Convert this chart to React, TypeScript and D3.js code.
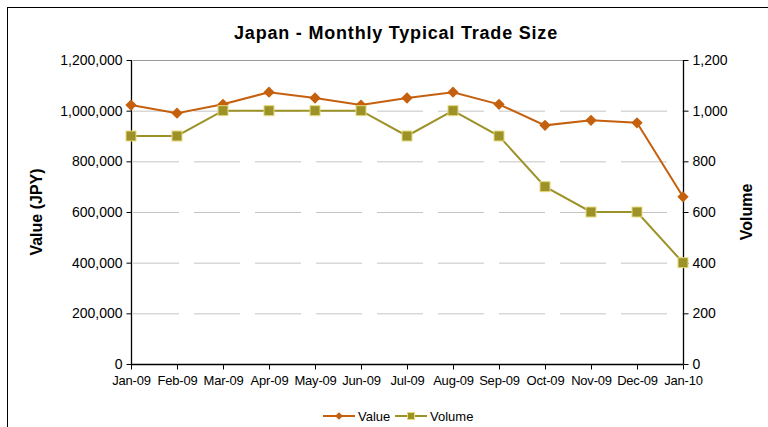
import React, { useEffect, useRef } from "react";
import * as d3 from "d3";

const months = ["Jan-09", "Feb-09", "Mar-09", "Apr-09", "May-09", "Jun-09", "Jul-09", "Aug-09", "Sep-09", "Oct-09", "Nov-09", "Dec-09", "Jan-10"];
const valueSeries = [1022000, 990000, 1025000, 1073000, 1050000, 1022000, 1050000, 1073000, 1025000, 942000, 962000, 952000, 660000];
const volumeSeries = [900, 900, 1000, 1000, 1000, 1000, 900, 1000, 900, 700, 600, 600, 400];
const valueTicks = [0, 200000, 400000, 600000, 800000, 1000000, 1200000];
const volumeTicks = [0, 200, 400, 600, 800, 1000, 1200];

const FONT = "Arial, 'Liberation Sans', sans-serif";
const VALUE_COLOR = "#C4600E";
const VOLUME_COLOR = "#9C9228";
const VOLUME_EDGE = "#E6DA7E";

export default function App() {
  const ref = useRef<SVGSVGElement>(null);

  useEffect(() => {
    const svg = d3.select(ref.current);
    svg.selectAll("*").remove();

    const left = 131, right = 683, top = 60, bottom = 364;

    svg.append("rect")
      .attr("x", 7.5).attr("y", 7.5)
      .attr("width", 800).attr("height", 500)
      .attr("fill", "white").attr("stroke", "#000").attr("stroke-width", 1);

    svg.append("text")
      .attr("x", 396).attr("y", 39)
      .attr("text-anchor", "middle")
      .style("font", `bold 18px ${FONT}`)
      .style("letter-spacing", "0.8px")
      .text("Japan - Monthly Typical Trade Size");

    const x = d3.scalePoint<string>().domain(months).range([left, right]);
    const yL = d3.scaleLinear().domain([0, 1200000]).range([bottom, top]);
    const yR = d3.scaleLinear().domain([0, 1200]).range([bottom, top]);

    // gridlines
    svg.append("g")
      .selectAll("line")
      .data(valueTicks.filter(t => t > 0))
      .join("line")
      .attr("x1", left + 2).attr("x2", right)
      .attr("y1", d => yL(d) + 0.5).attr("y2", d => yL(d) + 0.5)
      .attr("stroke", d => d === 1200000 ? "#999" : "#c4c4c4")
      .attr("stroke-dasharray", d => d === 1200000 ? null : "46,15");

    const fmt = d3.format(",");

    const axL = svg.append("g")
      .attr("transform", `translate(${left + 0.5},0)`)
      .call(d3.axisLeft(yL).tickValues(valueTicks).tickFormat(d => fmt(d as number)).tickSize(5).tickPadding(4));
    const axR = svg.append("g")
      .attr("transform", `translate(${right + 0.5},0)`)
      .call(d3.axisRight(yR).tickValues(volumeTicks).tickFormat(d => fmt(d as number)).tickSize(5).tickPadding(4));
    const axB = svg.append("g")
      .attr("transform", `translate(0,${bottom + 0.5})`)
      .call(d3.axisBottom(x).tickSize(5).tickPadding(6));

    [axL, axR, axB].forEach(ax => {
      ax.select(".domain").attr("stroke", "#000").attr("stroke-width", 1.3);
      ax.selectAll(".tick line").attr("stroke", "#000");
      ax.selectAll("text").style("font", `14px ${FONT}`).attr("fill", "#000");
    });
    axB.selectAll("text").style("font", `13px ${FONT}`).style("letter-spacing", "-0.2px");
    axB.select(".domain").attr("d", `M${left},0H${right}`);
    axL.select(".domain").attr("d", `M0,${top}V${bottom}`);
    axR.select(".domain").attr("d", `M0,${top}V${bottom}`);

    svg.append("text")
      .attr("transform", `translate(42,${(top + bottom) / 2}) rotate(-90)`)
      .attr("text-anchor", "middle")
      .style("font", `bold 16px ${FONT}`)
      .text("Value (JPY)");
    svg.append("text")
      .attr("transform", `translate(752,${(top + bottom) / 2}) rotate(-90)`)
      .attr("text-anchor", "middle")
      .style("font", `bold 16px ${FONT}`)
      .text("Volume");

    const lineVal = d3.line<number>().x((_, i) => x(months[i]) as number).y(d => yL(d));
    const lineVol = d3.line<number>().x((_, i) => x(months[i]) as number).y(d => yR(d));

    svg.append("path").datum(volumeSeries).attr("d", lineVol)
      .attr("fill", "none").attr("stroke", VOLUME_COLOR).attr("stroke-width", 2);
    svg.append("path").datum(valueSeries).attr("d", lineVal)
      .attr("fill", "none").attr("stroke", VALUE_COLOR).attr("stroke-width", 2);

    // diamond markers
    svg.append("g").selectAll("path")
      .data(valueSeries).join("path")
      .attr("transform", (d, i) => `translate(${x(months[i])},${yL(d)}) rotate(45)`)
      .attr("d", d3.symbol().type(d3.symbolSquare).size(64)())
      .attr("fill", VALUE_COLOR);

    svg.append("g").selectAll("rect")
      .data(volumeSeries).join("rect")
      .attr("x", (_, i) => (x(months[i]) as number) - 5)
      .attr("y", d => yR(d) - 5)
      .attr("width", 10).attr("height", 10)
      .attr("fill", VOLUME_COLOR).attr("stroke", VOLUME_EDGE).attr("stroke-width", 1);

    // legend
    const lg = svg.append("g").attr("transform", "translate(0,416)");
    lg.append("line").attr("x1", 323).attr("x2", 355).attr("y1", 0).attr("y2", 0)
      .attr("stroke", VALUE_COLOR).attr("stroke-width", 2);
    lg.append("path").attr("transform", "translate(339,0) rotate(45)")
      .attr("d", d3.symbol().type(d3.symbolSquare).size(30)()).attr("fill", VALUE_COLOR);
    lg.append("text").attr("x", 358).attr("y", 4.5).style("font", `13px ${FONT}`).text("Value");
    lg.append("line").attr("x1", 395).attr("x2", 427).attr("y1", 0).attr("y2", 0)
      .attr("stroke", VOLUME_COLOR).attr("stroke-width", 2);
    lg.append("rect").attr("x", 407.5).attr("y", -3.5).attr("width", 7).attr("height", 7)
      .attr("fill", VOLUME_COLOR).attr("stroke", VOLUME_EDGE);
    lg.append("text").attr("x", 430).attr("y", 4.5).style("font", `13px ${FONT}`).text("Volume");
  }, []);

  return (
    <svg ref={ref} width={768} height={427}
      style={{ position: "absolute", left: 0, top: 0, background: "white" }} />
  );
}
